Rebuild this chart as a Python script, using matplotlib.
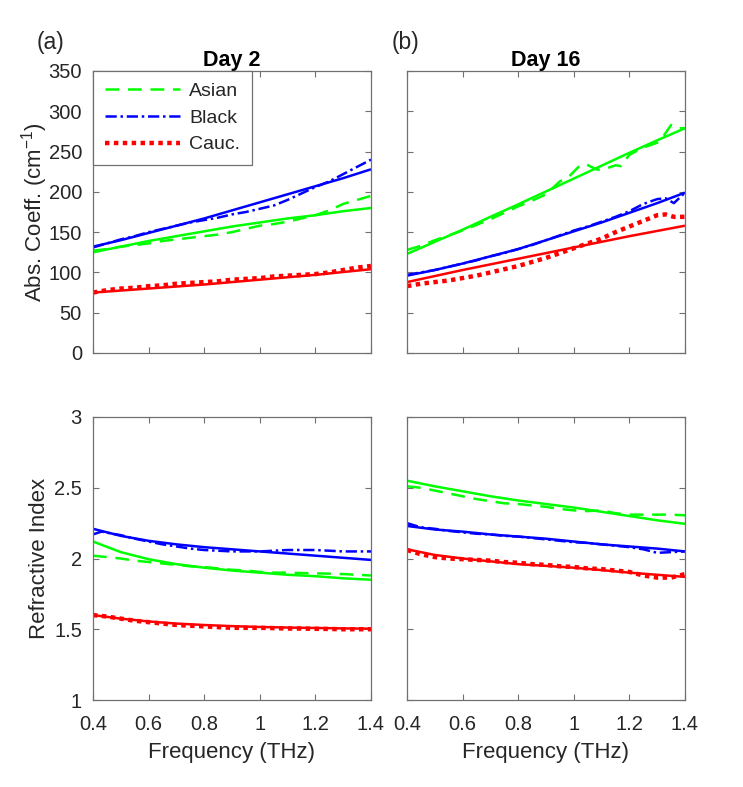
import matplotlib
matplotlib.use("Agg")
import matplotlib.pyplot as plt

plt.rcParams['font.family'] = ['Liberation Sans', 'DejaVu Sans']
plt.rcParams['mathtext.fontset'] = 'custom'
plt.rcParams['mathtext.rm'] = 'Liberation Sans'

# ---------------- data ----------------
x_fit = [0.4, 0.5, 0.6, 0.7, 0.8, 0.9, 1.0, 1.1, 1.2, 1.3, 1.4]
x_meas = [0.4, 0.45, 0.5, 0.55, 0.6, 0.65, 0.7, 0.75, 0.8, 0.85, 0.9,
          0.95, 1.0, 1.05, 1.1, 1.15, 1.2, 1.25, 1.3, 1.35, 1.4]

# Day 2 absorption coefficient (cm^-1)
abs2_asian_fit = [125, 132, 139, 145, 151, 157, 162, 167, 171, 176, 180]
abs2_black_fit = [132, 140, 149, 158, 167, 177, 187, 197, 207, 217, 228]
abs2_cauc_fit = [75, 77.5, 80, 82.5, 85, 88, 91, 94, 97, 100.5, 104]
abs2_asian = [127, 129, 132, 134, 136, 139, 141, 143, 145, 147, 150,
              154, 158, 160, 163, 167, 171, 177, 185, 190, 195]
abs2_black = [131, 136, 141, 145, 150, 154, 158, 162, 165, 168, 172,
              175, 179, 183, 190, 198, 206, 213, 222, 231, 240]
abs2_cauc = [75, 78, 80, 81, 83, 84, 86, 87, 88, 89, 91,
             92, 93, 95, 96, 97, 98, 100, 103, 106, 108]

# Day 16 absorption coefficient (cm^-1)
abs16_asian_fit = [123, 138, 153, 169, 184.5, 200.5, 216.5, 232.5, 248.5, 264, 279]
abs16_black_fit = [96, 103, 111, 120, 129, 140, 151, 162, 174, 186, 199]
abs16_cauc_fit = [88, 95.5, 103, 110, 117, 124, 131, 138, 145, 151.5, 158]
x16_asian = [0.4, 0.45, 0.5, 0.55, 0.6, 0.65, 0.7, 0.75, 0.8, 0.85, 0.9,
             0.95, 0.98, 1.02, 1.04, 1.08, 1.1, 1.15, 1.17, 1.2, 1.25,
             1.3, 1.32, 1.35, 1.37, 1.4]
abs16_asian = [128, 133, 140, 146, 152, 159, 166, 174, 182, 189, 197,
               213, 218, 232, 235, 228, 227, 233, 232, 246, 255,
               261, 268, 283, 279, 279]
x16_black = [0.4, 0.45, 0.5, 0.55, 0.6, 0.65, 0.7, 0.75, 0.8, 0.85, 0.9,
             0.95, 1.0, 1.05, 1.1, 1.15, 1.2, 1.25, 1.3, 1.33, 1.36, 1.4]
abs16_black = [97, 100, 103, 107, 111, 115, 120, 124, 129, 134, 140,
               146, 152, 157, 163, 169, 176, 185, 191, 192, 186, 199]
x16_cauc = [0.4, 0.45, 0.5, 0.55, 0.6, 0.65, 0.7, 0.75, 0.8, 0.85, 0.9,
            0.95, 1.0, 1.05, 1.1, 1.15, 1.2, 1.25, 1.3, 1.33, 1.36, 1.4]
abs16_cauc = [83, 86, 88, 90, 93, 96, 100, 104, 108, 113, 118,
              124, 130, 136, 142, 150, 157, 164, 171, 172, 169, 169]

# Day 2 refractive index
n2_asian_fit = [2.12, 2.045, 1.995, 1.96, 1.935, 1.915, 1.90, 1.885, 1.875, 1.86, 1.85]
n2_black_fit = [2.21, 2.16, 2.125, 2.10, 2.08, 2.065, 2.05, 2.035, 2.02, 2.005, 1.99]
n2_cauc_fit = [1.60, 1.575, 1.555, 1.54, 1.53, 1.522, 1.516, 1.512, 1.509, 1.506, 1.504]
n2_asian = [2.02, 2.01, 2.00, 1.985, 1.975, 1.965, 1.955, 1.945, 1.94, 1.93, 1.92,
            1.915, 1.905, 1.90, 1.90, 1.897, 1.895, 1.893, 1.89, 1.885, 1.88]
x2_black = [0.4, 0.43, 0.47, 0.5, 0.55, 0.6, 0.65, 0.7, 0.75, 0.8, 0.85, 0.9,
            0.95, 1.0, 1.05, 1.1, 1.15, 1.2, 1.25, 1.3, 1.35, 1.4]
n2_black = [2.17, 2.19, 2.175, 2.165, 2.14, 2.12, 2.10, 2.085, 2.07, 2.06, 2.055, 2.05,
            2.05, 2.05, 2.055, 2.06, 2.06, 2.06, 2.055, 2.05, 2.05, 2.05]
n2_cauc = [1.60, 1.59, 1.575, 1.56, 1.55, 1.54, 1.53, 1.525, 1.52, 1.515, 1.51,
           1.51, 1.51, 1.508, 1.505, 1.505, 1.503, 1.502, 1.50, 1.50, 1.50]

# Day 16 refractive index
n16_asian_fit = [2.55, 2.51, 2.475, 2.44, 2.41, 2.385, 2.36, 2.33, 2.30, 2.27, 2.245]
n16_black_fit = [2.23, 2.205, 2.19, 2.17, 2.155, 2.14, 2.12, 2.10, 2.085, 2.07, 2.05]
n16_cauc_fit = [2.065, 2.025, 2.00, 1.98, 1.96, 1.948, 1.935, 1.918, 1.90, 1.885, 1.87]
n16_asian = [2.51, 2.50, 2.48, 2.46, 2.44, 2.42, 2.405, 2.39, 2.385, 2.375, 2.365,
             2.35, 2.34, 2.335, 2.34, 2.32, 2.31, 2.31, 2.31, 2.31, 2.305]
n16_black = [2.25, 2.22, 2.21, 2.195, 2.185, 2.175, 2.17, 2.16, 2.155, 2.145, 2.135,
             2.125, 2.115, 2.11, 2.10, 2.09, 2.08, 2.065, 2.04, 2.045, 2.05]
n16_cauc = [2.06, 2.03, 2.01, 2.00, 1.995, 1.99, 1.985, 1.975, 1.97, 1.96, 1.955,
            1.945, 1.94, 1.93, 1.925, 1.915, 1.905, 1.88, 1.865, 1.865, 1.89]

groups = ['Asian', 'Black', 'Cauc.']
titles = ['Day 2', 'Day 16']
panel_labels = ['(a)', '(b)']
xticks = [0.4, 0.6, 0.8, 1.0, 1.2, 1.4]
xticklabels = ['0.4', '0.6', '0.8', '1', '1.2', '1.4']
abs_ticks = [0, 50, 100, 150, 200, 250, 300, 350]
n_ticks = [1, 1.5, 2, 2.5, 3]
n_ticklabels = ['1', '1.5', '2', '2.5', '3']

# ---------------- style ----------------
GREEN = '#00FF00'
BLUE = '#0000FF'
RED = '#FF0000'
TXT = '#262626'
SPINE = '#707070'
FS_TICK = 14.5
FS_LAB = 16
FS_TITLE = 15.5
FS_LEG = 14
FS_PANEL = 16.5
LW = 1.8

W, H = 743, 787
fig = plt.figure(figsize=(W / 100, H / 100), dpi=100)

def pos(l, t, r, b):
    return [l / W, 1 - b / H, (r - l) / W, (b - t) / H]

ax_a_top = fig.add_axes(pos(93, 71, 371, 353))
ax_b_top = fig.add_axes(pos(407, 71, 685, 353))
ax_a_bot = fig.add_axes(pos(93, 417, 371, 700))
ax_b_bot = fig.add_axes(pos(407, 417, 685, 700))

meas_style = {
    'Asian': dict(color=GREEN, lw=LW, linestyle=(0, (5.5, 3.5))),
    'Black': dict(color=BLUE, lw=LW, linestyle=(0, (4.5, 1.5, 1.0, 1.5))),
    'Cauc.': dict(color=RED, lw=3.2, linestyle=(0, (1.0, 1.0)), dash_capstyle='butt'),
}
fit_colors = {'Asian': GREEN, 'Black': BLUE, 'Cauc.': RED}

def style_axes(ax, ylim, yticks, yticklabels, show_y, show_x):
    ax.set_xlim(0.4, 1.4)
    ax.set_ylim(*ylim)
    ax.set_xticks(xticks)
    ax.set_yticks(yticks)
    if show_x:
        ax.set_xticklabels(xticklabels)
    else:
        ax.set_xticklabels([])
    if show_y:
        ax.set_yticklabels(yticklabels)
    else:
        ax.set_yticklabels([])
    ax.tick_params(direction='in', top=True, right=True, length=4.5, width=0.8,
                   color=SPINE, labelcolor=TXT, labelsize=FS_TICK, pad=8)
    ax.tick_params(axis='x', pad=10.5)
    for s in ax.spines.values():
        s.set_color(SPINE)
        s.set_linewidth(0.9)

abs_data = [
    (ax_a_top, [x_fit] * 3, [abs2_asian_fit, abs2_black_fit, abs2_cauc_fit],
     [x_meas, x_meas, x_meas], [abs2_asian, abs2_black, abs2_cauc]),
    (ax_b_top, [x_fit] * 3, [abs16_asian_fit, abs16_black_fit, abs16_cauc_fit],
     [x16_asian, x16_black, x16_cauc], [abs16_asian, abs16_black, abs16_cauc]),
]
n_data = [
    (ax_a_bot, [x_fit] * 3, [n2_asian_fit, n2_black_fit, n2_cauc_fit],
     [x_meas, x2_black, x_meas], [n2_asian, n2_black, n2_cauc]),
    (ax_b_bot, [x_fit] * 3, [n16_asian_fit, n16_black_fit, n16_cauc_fit],
     [x_meas, x_meas, x_meas], [n16_asian, n16_black, n16_cauc]),
]

for rows in (abs_data, n_data):
    for ax, xf, yf, xm, ym in rows:
        for g, xx, yy in zip(groups, xm, ym):
            ax.plot(xx, yy, label=g, **meas_style[g])
        for g, xx, yy in zip(groups, xf, yf):
            ax.plot(xx, yy, color=fit_colors[g], lw=LW, solid_capstyle='butt')

style_axes(ax_a_top, (0, 350), abs_ticks, [str(t) for t in abs_ticks], True, False)
style_axes(ax_b_top, (0, 350), abs_ticks, [], False, False)
style_axes(ax_a_bot, (1, 3), n_ticks, n_ticklabels, True, True)
style_axes(ax_b_bot, (1, 3), n_ticks, [], False, True)

for ax, t in zip([ax_a_top, ax_b_top], titles):
    ax.set_title(t, fontsize=FS_TITLE, fontweight='bold', color='black', pad=2.5)

ax_a_top.set_ylabel('Abs. Coeff. (cm$^{-1}$)', fontsize=FS_LAB, color=TXT)
ax_a_bot.set_ylabel('Refractive Index', fontsize=FS_LAB, color=TXT)
ax_a_top.yaxis.set_label_coords(-0.155, 0.5)
ax_a_bot.yaxis.set_label_coords(-0.155, 0.5)
for ax in (ax_a_bot, ax_b_bot):
    ax.set_xlabel('Frequency (THz)', fontsize=FS_LAB, color=TXT, labelpad=6)

leg = ax_a_top.legend(loc='upper left', fontsize=FS_LEG, handlelength=3.85,
                      borderaxespad=0, fancybox=False, framealpha=1,
                      edgecolor=SPINE, borderpad=0.6, labelspacing=0.46,
                      handletextpad=0.5)
leg.get_frame().set_linewidth(0.9)
for t in leg.get_texts():
    t.set_color(TXT)

fig.text(37 / W, 1 - 42 / H, panel_labels[0], fontsize=FS_PANEL, color=TXT, va='center')
fig.text(392 / W, 1 - 42 / H, panel_labels[1], fontsize=FS_PANEL, color=TXT, va='center')

fig.savefig('out.png', dpi=100)
